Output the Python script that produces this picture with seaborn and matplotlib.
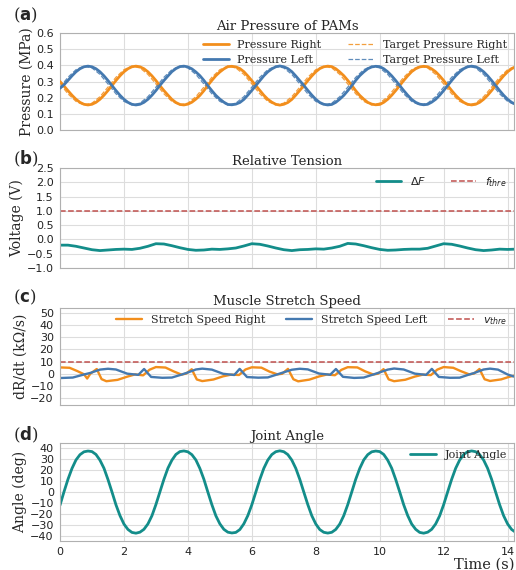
import matplotlib
matplotlib.use("Agg")
import matplotlib.pyplot as plt
import seaborn as sns

# sample clocks (s): fine for the big sinusoids, coarse for the rest
t_fine = [i * 0.125 for i in range(115)]
t = [0.00, 0.25, 0.50, 0.75, 1.00, 1.25, 1.50, 1.75, 2.00, 2.25, 2.50, 2.75,
     3.00, 3.25, 3.50, 3.75, 4.00, 4.25, 4.50, 4.75, 5.00, 5.25, 5.50, 5.75,
     6.00, 6.25, 6.50, 6.75, 7.00, 7.25, 7.50, 7.75, 8.00, 8.25, 8.50, 8.75,
     9.00, 9.25, 9.50, 9.75, 10.00, 10.25, 10.50, 10.75, 11.00, 11.25, 11.50, 11.75,
     12.00, 12.25, 12.50, 12.75, 13.00, 13.25, 13.50, 13.75, 14.00, 14.25]

# (a) air pressure (MPa), on t_fine
p_right = [0.300, 0.272, 0.243, 0.215, 0.190, 0.171, 0.159, 0.155, 0.159, 0.171, 0.190, 0.215,
           0.244, 0.275, 0.306, 0.335, 0.360, 0.379, 0.391, 0.395, 0.391, 0.379, 0.360, 0.335,
           0.306, 0.274, 0.244, 0.216, 0.189, 0.170, 0.158, 0.155, 0.160, 0.172, 0.191, 0.214,
           0.243, 0.276, 0.307, 0.336, 0.359, 0.378, 0.392, 0.394, 0.390, 0.380, 0.361, 0.334,
           0.305, 0.275, 0.245, 0.215, 0.190, 0.172, 0.159, 0.154, 0.159, 0.170, 0.189, 0.216,
           0.245, 0.274, 0.305, 0.334, 0.360, 0.380, 0.391, 0.395, 0.392, 0.379, 0.359, 0.336,
           0.307, 0.276, 0.243, 0.214, 0.191, 0.171, 0.160, 0.156, 0.158, 0.171, 0.190, 0.215,
           0.244, 0.275, 0.306, 0.335, 0.361, 0.379, 0.390, 0.394, 0.391, 0.378, 0.360, 0.335,
           0.306, 0.275, 0.244, 0.215, 0.190, 0.171, 0.159, 0.155, 0.159, 0.171, 0.190, 0.215,
           0.244, 0.275, 0.306, 0.335, 0.360, 0.379, 0.391]
p_left = [0.258, 0.280, 0.307, 0.335, 0.360, 0.379, 0.391, 0.395, 0.391, 0.379, 0.360, 0.335,
          0.306, 0.275, 0.244, 0.215, 0.190, 0.171, 0.159, 0.155, 0.159, 0.171, 0.190, 0.215,
          0.244, 0.276, 0.306, 0.334, 0.361, 0.380, 0.392, 0.395, 0.390, 0.378, 0.359, 0.336,
          0.307, 0.274, 0.243, 0.214, 0.191, 0.172, 0.158, 0.156, 0.160, 0.170, 0.189, 0.216,
          0.245, 0.275, 0.305, 0.335, 0.360, 0.378, 0.391, 0.396, 0.391, 0.380, 0.361, 0.334,
          0.305, 0.276, 0.245, 0.216, 0.190, 0.170, 0.159, 0.155, 0.158, 0.171, 0.191, 0.214,
          0.243, 0.274, 0.307, 0.336, 0.359, 0.379, 0.390, 0.394, 0.392, 0.379, 0.360, 0.335,
          0.306, 0.275, 0.244, 0.215, 0.189, 0.171, 0.160, 0.156, 0.159, 0.172, 0.190, 0.215,
          0.244, 0.275, 0.306, 0.335, 0.360, 0.379, 0.391, 0.395, 0.391, 0.379, 0.360, 0.335,
          0.306, 0.275, 0.244, 0.215, 0.190, 0.171, 0.159]
# targets, on t
target_right = [0.285, 0.224, 0.177, 0.155, 0.166, 0.206, 0.265, 0.326, 0.373, 0.395, 0.384, 0.344,
                0.285, 0.224, 0.177, 0.155, 0.166, 0.206, 0.265, 0.326, 0.373, 0.395, 0.384, 0.344,
                0.285, 0.224, 0.177, 0.155, 0.166, 0.206, 0.265, 0.326, 0.373, 0.395, 0.384, 0.344,
                0.285, 0.224, 0.177, 0.155, 0.166, 0.206, 0.265, 0.326, 0.373, 0.395, 0.384, 0.344,
                0.285, 0.224, 0.177, 0.155, 0.166, 0.206, 0.265, 0.326, 0.373, 0.395]
target_left = [0.265, 0.326, 0.373, 0.395, 0.384, 0.344, 0.285, 0.224, 0.177, 0.155, 0.166, 0.206,
               0.265, 0.326, 0.373, 0.395, 0.384, 0.344, 0.285, 0.224, 0.177, 0.155, 0.166, 0.206,
               0.265, 0.326, 0.373, 0.395, 0.384, 0.344, 0.285, 0.224, 0.177, 0.155, 0.166, 0.206,
               0.265, 0.326, 0.373, 0.395, 0.384, 0.344, 0.285, 0.224, 0.177, 0.155, 0.166, 0.206,
               0.265, 0.326, 0.373, 0.395, 0.384, 0.344, 0.285, 0.224, 0.177, 0.155]

# (b) relative tension (V), on t
delta_f = [-0.20, -0.20, -0.24, -0.30, -0.36, -0.39, -0.37, -0.35, -0.34, -0.35, -0.31, -0.24,
           -0.15, -0.16, -0.22, -0.29, -0.35, -0.38, -0.37, -0.34, -0.35, -0.33, -0.30, -0.23,
           -0.15, -0.17, -0.23, -0.30, -0.36, -0.39, -0.36, -0.35, -0.33, -0.34, -0.30, -0.24,
           -0.14, -0.16, -0.22, -0.29, -0.35, -0.38, -0.37, -0.35, -0.34, -0.34, -0.31, -0.23,
           -0.15, -0.17, -0.23, -0.30, -0.36, -0.39, -0.37, -0.34, -0.35, -0.34]
f_thre = 1.0

# (c) stretch speed (kOhm/s), irregular knots
t_sr = [0.00, 0.30, 0.55, 0.75, 0.85, 0.95, 1.15, 1.30, 1.45, 1.80, 2.10, 2.35, 2.60, 2.80,
        3.00, 3.30, 3.55, 3.80, 3.95, 4.12, 4.28, 4.45, 4.80, 5.10, 5.35, 5.60, 5.80,
        6.00, 6.30, 6.55, 6.80, 6.95, 7.13, 7.30, 7.45, 7.80, 8.10, 8.35, 8.60, 8.80,
        9.00, 9.30, 9.55, 9.80, 9.95, 10.12, 10.28, 10.45, 10.80, 11.10, 11.35, 11.60, 11.80,
        12.00, 12.30, 12.55, 12.80, 12.95, 13.12, 13.28, 13.45, 13.80, 14.05, 14.20]
v_right = [5.3, 5.0, 2.2, -0.3, -3.8, 0.2, 4.0, -4.3, -6.0, -4.9, -2.3, -0.4, -1.2, 3.4,
           5.6, 5.2, 2.1, -0.6, 0.3, 3.8, -4.6, -5.9, -4.6, -2.0, -0.6, -0.9, 3.6,
           5.4, 5.1, 1.9, -0.4, 0.1, 4.1, -4.4, -6.1, -4.7, -2.1, -0.5, -1.1, 3.3,
           5.5, 5.3, 2.0, -0.5, 0.2, 3.9, -4.5, -6.0, -4.8, -2.2, -0.6, -1.0, 3.5,
           5.6, 5.0, 2.1, -0.4, 0.3, 4.0, -4.4, -5.8, -4.5, -2.4, -1.5]
t_sl = [0.00, 0.40, 0.75, 0.95, 1.25, 1.50, 1.75, 2.10, 2.45, 2.63, 2.85,
        3.20, 3.50, 3.80, 3.95, 4.25, 4.45, 4.75, 5.10, 5.45, 5.62, 5.85,
        6.20, 6.50, 6.80, 6.95, 7.25, 7.50, 7.75, 8.10, 8.45, 8.63, 8.85,
        9.20, 9.50, 9.80, 9.95, 10.25, 10.45, 10.75, 11.10, 11.45, 11.63, 11.85,
        12.20, 12.50, 12.80, 12.95, 13.25, 13.45, 13.70, 14.00, 14.20]
v_left = [-3.4, -3.0, -0.5, 0.8, 3.5, 4.2, 3.6, 0.2, -0.8, 4.0, -2.5,
          -3.2, -3.0, -0.6, 0.7, 3.6, 4.3, 3.5, 0.1, -0.9, 4.1, -2.6,
          -3.1, -2.9, -0.4, 0.9, 3.4, 4.2, 3.7, 0.3, -0.7, 4.0, -2.4,
          -3.3, -3.0, -0.5, 0.8, 3.5, 4.4, 3.6, 0.2, -0.8, 4.1, -2.5,
          -3.2, -3.1, -0.5, 0.7, 3.6, 4.3, 3.5, -0.5, -2.2]
v_thre = 10

# (d) joint angle (deg), on t_fine
angle = [-12.0, 0.2, 11.6, 21.4, 29.1, 33.9, 36.5, 37.2, 36.7, 34.1, 28.9, 21.6,
         11.4, 0.1, -11.6, -21.4, -29.1, -34.0, -36.7, -37.4, -36.5, -33.9, -29.0, -21.6,
         -11.4, 0.1, 11.5, 21.6, 28.9, 34.1, 36.7, 37.3, 36.5, 33.9, 29.1, 21.4,
         11.6, -0.1, -11.5, -21.6, -28.9, -33.9, -36.5, -37.2, -36.7, -34.1, -28.9, -21.4,
         -11.6, -0.1, 11.4, 21.5, 29.0, 34.0, 36.6, 37.4, 36.6, 34.0, 29.0, 21.5,
         11.5, 0.0, -11.4, -21.5, -29.0, -34.1, -36.6, -37.3, -36.6, -34.0, -29.1, -21.5,
         -11.5, 0.0, 11.6, 21.4, 29.1, 33.9, 36.5, 37.2, 36.7, 34.1, 28.9, 21.6,
         11.4, 0.1, -11.6, -21.4, -29.1, -33.9, -36.7, -37.4, -36.5, -33.9, -29.0, -21.6,
         -11.5, 0.1, 11.5, 21.5, 29.0, 34.0, 36.6, 37.3, 36.6, 34.0, 29.0, 21.5,
         11.5, 0.0, -11.5, -21.5, -29.0, -34.0, -36.6]

ORANGE = "#f28e1c"
BLUE = "#4479b0"
TEAL = "#138d8a"
RED = "#c0504d"

sns.set_style("whitegrid", {"grid.color": "#dddddd", "axes.edgecolor": "#b0b0b0"})
plt.rcParams["font.size"] = 8
plt.rcParams["mathtext.fontset"] = "dejavusans"

W, H = 516, 570
fig = plt.figure(figsize=(W / 100, H / 100), dpi=100)

def make_ax(top, bottom):
    return fig.add_axes([60 / W, 1 - bottom / H, 454 / W, (bottom - top) / H])

ax_a = make_ax(33, 130)
ax_b = make_ax(168, 268)
ax_c = make_ax(308, 405)
ax_d = make_ax(443, 541)

serif = "DejaVu Serif"
TITLE = 9.5
YLAB = 10
leg_kw = dict(frameon=False, prop={"family": serif, "size": 8}, handlelength=2.3,
              borderaxespad=0.25, labelspacing=0.45, handletextpad=0.8)

# (a)
sns.lineplot(x=t, y=target_right, ax=ax_a, color=ORANGE, lw=0.9, ls="--", alpha=0.85,
             label="Target Pressure Right", zorder=2)
sns.lineplot(x=t, y=target_left, ax=ax_a, color=BLUE, lw=0.9, ls="--", alpha=0.85,
             label="Target Pressure Left", zorder=2)
sns.lineplot(x=t_fine, y=p_right, ax=ax_a, color=ORANGE, lw=2.0, label="Pressure Right", zorder=3)
sns.lineplot(x=t_fine, y=p_left, ax=ax_a, color=BLUE, lw=2.0, label="Pressure Left", zorder=3)
ax_a.set_ylim(0, 0.6)
ax_a.set_yticks([0.0, 0.1, 0.2, 0.3, 0.4, 0.5, 0.6])
ax_a.set_ylabel("Pressure (MPa)", family=serif, fontsize=YLAB)
ax_a.set_title("Air Pressure of PAMs", family=serif, fontsize=TITLE, pad=2)
h, l = ax_a.get_legend_handles_labels()
order = [2, 3, 0, 1]
ax_a.legend([h[i] for i in order], [l[i] for i in order], loc="upper right", ncol=2,
            columnspacing=2.4, **leg_kw)

# (b)
sns.lineplot(x=t, y=delta_f, ax=ax_b, color=TEAL, lw=2.0, label=r"$\Delta F$")
ax_b.axhline(f_thre, color=RED, ls="--", lw=1.1, label=r"$f_{thre}$")
ax_b.set_ylim(-1.0, 2.5)
ax_b.set_yticks([-1.0, -0.5, 0.0, 0.5, 1.0, 1.5, 2.0, 2.5])
ax_b.set_ylabel("Voltage (V)", family=serif, fontsize=YLAB)
ax_b.set_title("Relative Tension", family=serif, fontsize=TITLE, pad=2)
ax_b.legend(loc="upper right", ncol=2, columnspacing=2.2, **leg_kw)

# (c)
sns.lineplot(x=t_sr, y=v_right, ax=ax_c, color=ORANGE, lw=1.7, label="Stretch Speed Right")
sns.lineplot(x=t_sl, y=v_left, ax=ax_c, color=BLUE, lw=1.7, label="Stretch Speed Left")
ax_c.axhline(v_thre, color=RED, ls="--", lw=1.1, label=r"$v_{thre}$")
ax_c.set_ylim(-25.5, 54)
ax_c.set_yticks([-20, -10, 0, 10, 20, 30, 40, 50])
ax_c.set_ylabel("dR/dt (k\u03a9/s)", family=serif, fontsize=YLAB)
ax_c.set_title("Muscle Stretch Speed", family=serif, fontsize=TITLE, pad=2)
ax_c.legend(loc="upper right", ncol=3, columnspacing=1.9, **leg_kw)

# (d)
sns.lineplot(x=t_fine, y=angle, ax=ax_d, color=TEAL, lw=2.0, label="Joint Angle")
ax_d.set_ylim(-44.5, 44.5)
ax_d.set_yticks([-40, -30, -20, -10, 0, 10, 20, 30, 40])
ax_d.set_ylabel("Angle (deg)", family=serif, fontsize=YLAB)
ax_d.set_title("Joint Angle", family=serif, fontsize=TITLE, pad=2)
ax_d.set_xlabel("Time (s)", family=serif, fontsize=10.5, loc="right", labelpad=0)
ax_d.legend(loc="upper right", **leg_kw)

for ax in (ax_a, ax_b, ax_c, ax_d):
    ax.set_xlim(0, 14.2)
    ax.set_xticks([0, 2, 4, 6, 8, 10, 12, 14])
    ax.tick_params(labelsize=8, pad=1, colors="#222222")
    ax.yaxis.labelpad = 2
    if ax is not ax_d:
        ax.set_xticklabels([])

for lab, y in zip("abcd", [15, 159, 297, 435]):
    fig.text(13 / W, 1 - y / H, r"($\mathbf{" + lab + r"}$)", family=serif, fontsize=12,
             va="center", ha="left")

fig.savefig("out.png", dpi=100)
